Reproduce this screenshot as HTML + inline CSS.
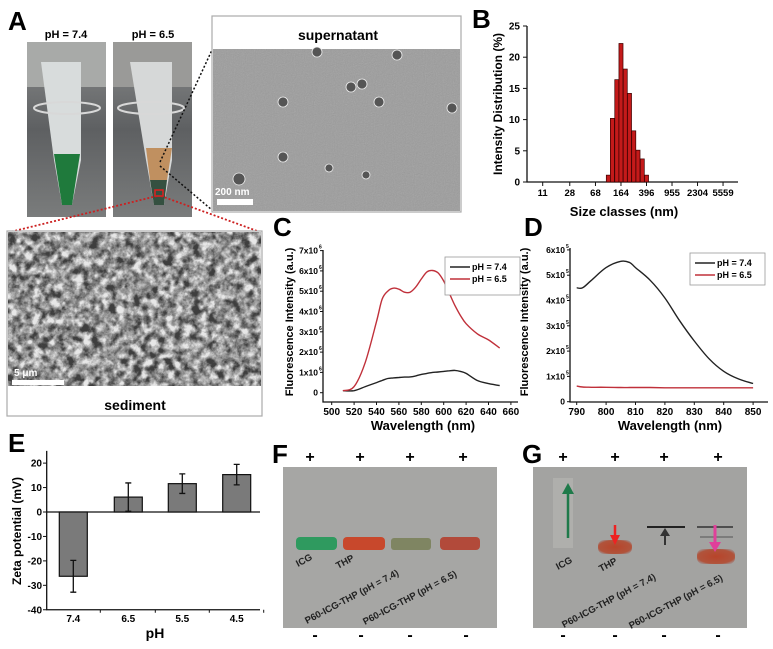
<!DOCTYPE html>
<html><head><meta charset="utf-8"><style>
html,body{margin:0;padding:0;background:#fff}
svg{display:block;font-family:"Liberation Sans",Arial,sans-serif}
</style></head><body>
<svg id="fig" width="773" height="649" viewBox="0 0 773 649">
<defs>
<filter id="noise" x="0" y="0" width="100%" height="100%"><feTurbulence type="fractalNoise" baseFrequency="0.9" numOctaves="2" seed="3"/><feColorMatrix type="saturate" values="0"/><feComponentTransfer><feFuncA type="linear" slope="0.25"/></feComponentTransfer></filter>
<filter id="rough" x="0" y="0" width="100%" height="100%"><feTurbulence type="fractalNoise" baseFrequency="0.12" numOctaves="4" seed="7"/><feColorMatrix type="matrix" values="0 0 0 0 0.8  0 0 0 0 0.8  0 0 0 0 0.8  1.3 1.3 1.3 0 -1.45"/></filter>
<linearGradient id="bg1" x1="0" y1="0" x2="0" y2="1"><stop offset="0" stop-color="#8a8c8c"/><stop offset="0.5" stop-color="#5e6062"/><stop offset="1" stop-color="#7a7c7c"/></linearGradient>
<radialGradient id="band" cx="0.5" cy="0.5" r="0.6"><stop offset="0" stop-color="#b8442a"/><stop offset="0.8" stop-color="#b0543c"/><stop offset="1" stop-color="#a0706a" stop-opacity="0.5"/></radialGradient>
</defs>

<g>
<text x="8" y="30" font-size="26" font-weight="bold">A</text>
<text x="66" y="38" font-size="11" font-weight="bold" text-anchor="middle">pH = 7.4</text>
<text x="153" y="38" font-size="11" font-weight="bold" text-anchor="middle">pH = 6.5</text>
<g>
<rect x="27" y="42" width="79" height="175" fill="url(#bg1)"/>
<rect x="27" y="42" width="79" height="45" fill="#a8aaa8"/>
<path d="M41 62 L81 62 L81 160 L72 205 L62 205 L54 160 Z" fill="#d8dcdc"/>
<path d="M54 154 L80 154 L72 205 L62 205 Z" fill="#1f7a3c"/>
<ellipse cx="67" cy="108" rx="33" ry="6" fill="none" stroke="#d8d8d8" stroke-width="2"/>
</g>
<g>
<rect x="113" y="42" width="79" height="175" fill="url(#bg1)"/>
<rect x="113" y="42" width="79" height="45" fill="#9a9a98"/>
<path d="M130 62 L172 62 L172 160 L164 205 L154 205 L146 160 Z" fill="#d6d8d8"/>
<path d="M146 148 L172 148 L167 180 L150 180 Z" fill="#c09060"/>
<path d="M150 180 L167 180 L164 205 L154 205 Z" fill="#355040"/>
<rect x="155" y="190" width="8" height="6" fill="none" stroke="#e02020" stroke-width="1.5"/>
<ellipse cx="151" cy="108" rx="33" ry="6" fill="none" stroke="#d8d8d8" stroke-width="2"/>
</g>
<line x1="160" y1="162" x2="212" y2="50" stroke="#111" stroke-width="1.5" stroke-dasharray="2,2"/>
<line x1="160" y1="166" x2="212" y2="210" stroke="#111" stroke-width="1.5" stroke-dasharray="2,2"/>
<line x1="157" y1="196" x2="10" y2="232" stroke="#cc2020" stroke-width="1.8" stroke-dasharray="2,2"/>
<line x1="161" y1="196" x2="260" y2="232" stroke="#cc2020" stroke-width="1.8" stroke-dasharray="2,2"/>
<g>
<rect x="212" y="16" width="249" height="196" fill="#fff" stroke="#aaa" stroke-width="1.2"/>
<rect x="213" y="49" width="247" height="162" fill="#9c9c9c"/>
<rect x="213" y="49" width="247" height="162" filter="url(#noise)"/>
<text x="338" y="40" font-size="14" font-weight="bold" text-anchor="middle">supernatant</text>
<g fill="#555" stroke="#eee" stroke-width="0.8">
<circle cx="317" cy="52" r="5"/><circle cx="397" cy="55" r="5"/><circle cx="351" cy="87" r="5"/><circle cx="362" cy="84" r="5"/>
<circle cx="283" cy="102" r="5"/><circle cx="379" cy="102" r="5"/><circle cx="452" cy="108" r="5"/>
<circle cx="283" cy="157" r="5"/><circle cx="329" cy="168" r="4"/><circle cx="366" cy="175" r="4"/><circle cx="239" cy="179" r="6"/>
</g>
<text x="215" y="195" font-size="10" font-weight="bold" fill="#fff">200 nm</text>
<rect x="217" y="199" width="36" height="6" fill="#fff"/>
</g>
<g>
<rect x="7" y="231" width="255" height="185" fill="#fff" stroke="#aaa" stroke-width="1.2"/>
<rect x="8" y="232" width="253" height="154" fill="#3e3e3e"/>
<rect x="8" y="232" width="253" height="154" filter="url(#rough)"/>
<text x="14" y="376" font-size="10" font-weight="bold" fill="#fff">5 μm</text>
<rect x="12" y="380" width="52" height="5" fill="#fff"/>
<text x="135" y="410" font-size="14" font-weight="bold" text-anchor="middle">sediment</text>
</g>
</g>

<g id="chartB">
<text x="472" y="28" font-size="26" font-weight="bold">B</text>
<text transform="translate(502,104) rotate(-90)" font-size="12" font-weight="bold" text-anchor="middle">Intensity Distribution (%)</text>
<text x="624" y="216" font-size="13" font-weight="bold" text-anchor="middle">Size classes (nm)</text>
</g>

<g id="chartC">
<text x="273" y="236" font-size="26" font-weight="bold">C</text>
<text transform="translate(293,322) rotate(-90)" font-size="11" font-weight="bold" text-anchor="middle">Fluorescence Intensity (a.u.)</text>
<text x="423" y="430" font-size="13" font-weight="bold" text-anchor="middle">Wavelength (nm)</text>
</g>

<g id="chartD">
<text x="524" y="236" font-size="26" font-weight="bold">D</text>
<text transform="translate(528,322) rotate(-90)" font-size="11" font-weight="bold" text-anchor="middle">Fluorescence Intensity (a.u.)</text>
<text x="670" y="430" font-size="13" font-weight="bold" text-anchor="middle">Wavelength (nm)</text>
</g>

<g id="chartE">
<text x="8" y="452" font-size="26" font-weight="bold">E</text>
<text transform="translate(21,531) rotate(-90)" font-size="12" font-weight="bold" text-anchor="middle">Zeta potential (mV)</text>
<text x="155" y="638" font-size="14" font-weight="bold" text-anchor="middle">pH</text>
</g>

<g>
<text x="272" y="463" font-size="26" font-weight="bold">F</text>
<rect x="283" y="467" width="214" height="161" fill="#a6a6a4"/>
<g font-size="16" font-weight="bold" text-anchor="middle">
<text x="310" y="462">+</text><text x="360" y="462">+</text><text x="410" y="462">+</text><text x="463" y="462">+</text>
<text x="315" y="640">-</text><text x="361" y="640">-</text><text x="410" y="640">-</text><text x="466" y="640">-</text>
</g>
<rect x="296" y="537" width="41" height="13" rx="4" fill="#2f9a5f"/>
<rect x="343" y="537" width="42" height="13" rx="4" fill="#c8482c"/>
<rect x="391" y="538" width="40" height="12" rx="3" fill="#7f8562"/>
<rect x="440" y="537" width="40" height="13" rx="4" fill="#b24a3a"/>
<g font-size="9.5" font-weight="bold" fill="#222">
<text transform="translate(298,567) rotate(-28)">ICG</text>
<text transform="translate(338,569) rotate(-28)">THP</text>
<text transform="translate(307,624) rotate(-28)">P60-ICG-THP (pH = 7.4)</text>
<text transform="translate(365,625) rotate(-28)">P60-ICG-THP (pH = 6.5)</text>
</g>
</g>

<g>
<text x="522" y="463" font-size="26" font-weight="bold">G</text>
<rect x="533" y="467" width="214" height="161" fill="#a3a3a1"/>
<rect x="553" y="478" width="20" height="70" fill="#b4b4b0" opacity="0.7"/>
<g font-size="16" font-weight="bold" text-anchor="middle">
<text x="563" y="462">+</text><text x="615" y="462">+</text><text x="664" y="462">+</text><text x="718" y="462">+</text>
<text x="563" y="640">-</text><text x="615" y="640">-</text><text x="664" y="640">-</text><text x="718" y="640">-</text>
</g>
<line x1="568" y1="538" x2="568" y2="492" stroke="#1f7a4a" stroke-width="2.5"/>
<path d="M562 494 L568 483 L574 494 Z" fill="#1f7a4a"/>
<rect x="598" y="540" width="34" height="14" rx="6" fill="url(#band)"/>
<line x1="615" y1="525" x2="615" y2="540" stroke="#ee2222" stroke-width="2.5"/>
<path d="M610 535 L615 545 L620 535 Z" fill="#ee2222"/>
<line x1="647" y1="527" x2="685" y2="527" stroke="#222" stroke-width="2"/>
<line x1="665" y1="530" x2="665" y2="545" stroke="#333" stroke-width="2"/>
<path d="M660 536 L665 528 L670 536 Z" fill="#333"/>
<line x1="697" y1="527" x2="733" y2="527" stroke="#333" stroke-width="1.5"/>
<line x1="700" y1="537" x2="733" y2="537" stroke="#555" stroke-width="1"/>
<rect x="697" y="549" width="38" height="15" rx="6" fill="url(#band)"/>
<line x1="715" y1="525" x2="715" y2="545" stroke="#e0409a" stroke-width="3"/>
<path d="M709 542 L715 552 L721 542 Z" fill="#e0409a"/>
<g font-size="9.5" font-weight="bold" fill="#222">
<text transform="translate(558,570) rotate(-28)">ICG</text>
<text transform="translate(601,572) rotate(-28)">THP</text>
<text transform="translate(564,628) rotate(-28)">P60-ICG-THP (pH = 7.4)</text>
<text transform="translate(631,629) rotate(-28)">P60-ICG-THP (pH = 6.5)</text>
</g>
</g>
</svg>
<script>
const NS="http://www.w3.org/2000/svg";
const bSizes=[106,122,142,164,190,220,255,295,342,396];
const bValues=[1.1,10.2,16.4,22.2,18.1,14.2,8.2,5.1,3.7,1.1];
const bTickLabels=["11","28","68","164","396","955","2304","5559"];
const bYTicks=[0,5,10,15,20,25];
const cWave=[510,520,530,540,545,550,555,560,565,570,575,580,585,590,595,600,605,610,615,620,630,640,650];
const cRed=[0.1,0.3,1.5,3.5,4.6,5.0,5.15,5.1,4.95,4.95,5.2,5.6,5.95,6.02,5.9,5.5,4.9,4.3,3.8,3.4,2.9,2.6,2.2];
const cBlack=[0.1,0.1,0.3,0.5,0.6,0.7,0.73,0.75,0.77,0.78,0.83,0.9,0.95,1.0,1.02,1.05,1.08,1.1,1.05,0.95,0.6,0.45,0.35];
const cXTicks=[500,520,540,560,580,600,620,640,660];
const cYTicks=[0,1,2,3,4,5,6,7];
const dWave=[790,792,795,800,805,808,810,815,820,825,830,835,840,845,850];
const dBlack=[4.5,4.5,4.8,5.3,5.55,5.5,5.3,4.8,4.1,3.2,2.4,1.7,1.2,0.9,0.72];
const dRed=[0.62,0.58,0.57,0.57,0.56,0.56,0.56,0.56,0.55,0.55,0.55,0.55,0.55,0.55,0.55];
const dXTicks=[790,800,810,820,830,840,850];
const dYTicks=[0,1,2,3,4,5,6];
const eCats=["7.4","6.5","5.5","4.5"];
const eValues=[-26.3,6.1,11.6,15.3];
const eErrors=[6.5,5.8,4.0,4.2];
const eYTicks=[-40,-30,-20,-10,0,10,20];

function mk(parent,tag,attrs,text){const e=document.createElementNS(NS,tag);for(const k in attrs)e.setAttribute(k,attrs[k]);if(text!==undefined)e.textContent=text;parent.appendChild(e);return e;}
function smooth(pts){let d='M'+pts[0][0].toFixed(1)+' '+pts[0][1].toFixed(1);
for(let i=0;i<pts.length-1;i++){const p0=pts[i-1]||pts[i],p1=pts[i],p2=pts[i+1],p3=pts[i+2]||p2;
const c1=[p1[0]+(p2[0]-p0[0])/6,p1[1]+(p2[1]-p0[1])/6],c2=[p2[0]-(p3[0]-p1[0])/6,p2[1]-(p3[1]-p1[1])/6];
d+=` C${c1[0].toFixed(1)} ${c1[1].toFixed(1)} ${c2[0].toFixed(1)} ${c2[1].toFixed(1)} ${p2[0].toFixed(1)} ${p2[1].toFixed(1)}`;}return d;}

(function(){
const g=document.getElementById('chartB');
const x=v=>542.7+(Math.log(v)-Math.log(11))*28.97;
const y=v=>182-v*6.24;
const ax=mk(g,'path',{d:`M527 ${y(25)} L527 182 L738 182`,fill:'none',stroke:'#111','stroke-width':1.3});


const step=Math.log(bSizes[1]/bSizes[0]);
bSizes.forEach((s,i)=>{
 const x0=x(s)-step*28.97/2,w=step*28.97;
 const r=mk(g,'rect',{x:x0,y:y(bValues[i]),width:w,height:182-y(bValues[i]),fill:'#c41a1a',stroke:'#3a0000','stroke-width':0.7});
 
 
});
bYTicks.forEach(t=>{mk(g,'line',{x1:523,x2:527,y1:y(t),y2:y(t),stroke:'#111'});
 const l=mk(g,'text',{x:520,y:y(t)+3.5,'font-size':10,'font-weight':'bold','text-anchor':'end'},String(t));
 
 });
const vals=[11,28,68,164,396,955,2304,5559];
bTickLabels.forEach((t,i)=>{const px=x(vals[i]);mk(g,'line',{x1:px,x2:px,y1:182,y2:186,stroke:'#111'});
 const l=mk(g,'text',{x:px,y:196,'font-size':9.5,'font-weight':'bold','text-anchor':'middle'},t);
 
 });
})();

function lineChart(id,xs,series,xT,yT,xf,yf,x0,x1,yTop,yBase,ylab,leg){
const g=document.getElementById(id);
const a=mk(g,'path',{d:`M${x0} ${yTop} L${x0} ${yBase} L${x1} ${yBase}`,fill:'none',stroke:'#111','stroke-width':1.3});


xT.forEach(t=>{const px=xf(t);mk(g,'line',{x1:px,x2:px,y1:yBase,y2:yBase+3,stroke:'#111'});
 const l=mk(g,'text',{x:px,y:yBase+13,'font-size':10,'font-weight':'bold','text-anchor':'middle'},String(t));
 
 });
yT.forEach(t=>{const py=yf(t);mk(g,'line',{x1:x0-3,x2:x0,y1:py,y2:py,stroke:'#111'});
 const l=mk(g,'text',{x:x0-5,y:py+3,'font-size':8.5,'font-weight':'bold','text-anchor':'end'},t===0?'0':t+'x10');
 
 
 if(t!==0)mk(g,'text',{x:x0-4,y:py-2,'font-size':5,'font-weight':'bold'},ylab);});
series.forEach(s=>{const d=smooth(xs.map((v,i)=>[xf(v),yf(s.v[i])]));
 const p=mk(g,'path',{d:d,fill:'none',stroke:s.c,'stroke-width':1.4,'stroke-linejoin':'round'});
 
 });
const lg=mk(g,'g',{});


mk(lg,'rect',{x:leg[0],y:leg[1],width:leg[2],height:leg[3],fill:'#fff',stroke:'#999','stroke-width':0.8});
series.forEach((s,i)=>{const yy=leg[1]+10+i*12;mk(lg,'line',{x1:leg[0]+5,x2:leg[0]+25,y1:yy,y2:yy,stroke:s.c,'stroke-width':1.4});
 mk(lg,'text',{x:leg[0]+27,y:yy+3,'font-size':9,'font-weight':'bold'},s.label);});
}
lineChart('chartC',cWave,[{n:'ph-7-4',label:'pH = 7.4',c:'#222',v:cBlack},{n:'ph-6-5',label:'pH = 6.5',c:'#c0303a',v:cRed}],
 cXTicks,cYTicks,v=>331.7+(v-500)*1.12,v=>392.7-v*20.3,323,518,250,402,'6',[445,257,75,38]);
lineChart('chartD',dWave,[{n:'ph-7-4',label:'pH = 7.4',c:'#222',v:dBlack},{n:'ph-6-5',label:'pH = 6.5',c:'#c0303a',v:dRed}],
 dXTicks,dYTicks,v=>576.7+(v-790)*2.94,v=>401.7-v*25.3,570,768,248,402,'5',[690,253,75,32]);

(function(){
const g=document.getElementById('chartE');
const y=v=>512-v*2.444;
const xs=[73.3,128.3,182.3,236.7];
const a=mk(g,'path',{d:`M46.7 ${y(25)} L46.7 ${y(-40)} L260 ${y(-40)}`,fill:'none',stroke:'#111','stroke-width':1.3});


mk(g,'line',{x1:46.7,x2:260,y1:y(0),y2:y(0),stroke:'#111','stroke-width':1.2});
eYTicks.forEach(t=>{mk(g,'line',{x1:43,x2:46.7,y1:y(t),y2:y(t),stroke:'#111'});
 const l=mk(g,'text',{x:42,y:y(t)+3.5,'font-size':10,'font-weight':'bold','text-anchor':'end'},String(t));
 
 });
eCats.forEach((c,i)=>{const cx=xs[i],v=eValues[i],e=eErrors[i];
 const r=mk(g,'rect',{x:cx-14,y:Math.min(y(0),y(v)),width:28,height:Math.abs(y(v)-y(0)),fill:'#7a7a7a',stroke:'#111','stroke-width':1.2});
 
 
 const eb=mk(g,'path',{d:`M${cx} ${y(v-e)} L${cx} ${y(v+e)} M${cx-3} ${y(v-e)} L${cx+3} ${y(v-e)} M${cx-3} ${y(v+e)} L${cx+3} ${y(v+e)}`,stroke:'#111','stroke-width':1.3,fill:'none'});
 
 
 const l=mk(g,'text',{x:cx,y:622,'font-size':10,'font-weight':'bold','text-anchor':'middle'},c);
 
 
 mk(g,'line',{x1:cx+27,x2:cx+27,y1:y(-40),y2:y(-40)+3,stroke:'#111'});});
})();
</script>
</body></html>
